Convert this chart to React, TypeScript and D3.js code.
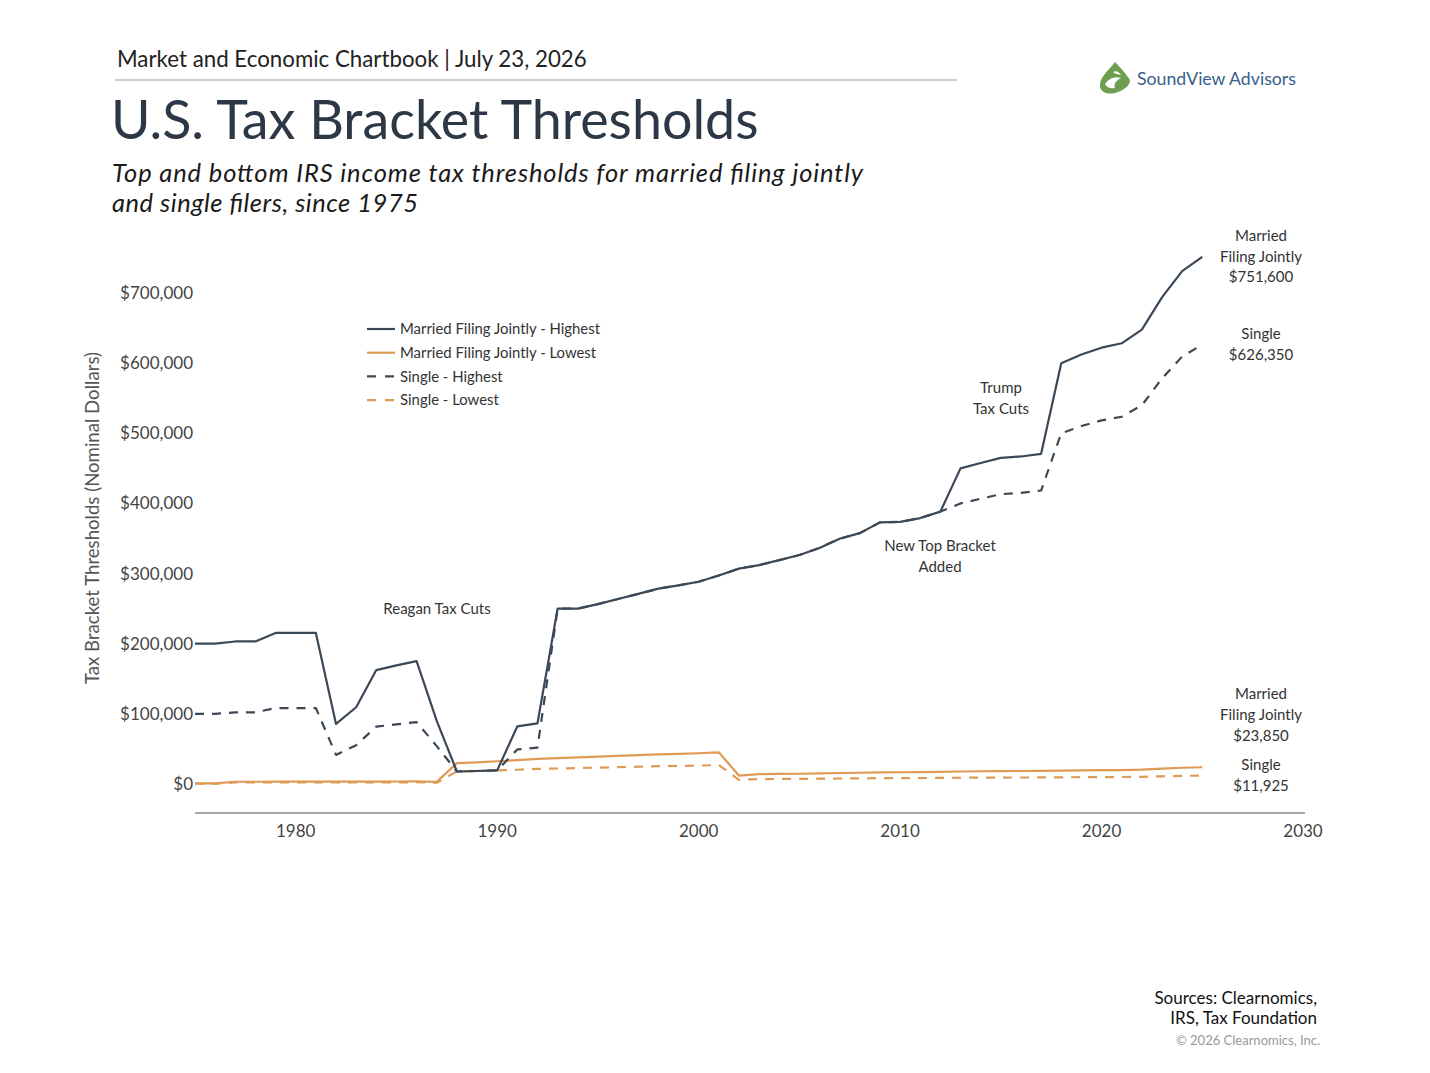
import React from "react";
import * as d3 from "d3";

const years: number[] = d3.range(1975, 2026);

const mfjHighest: number[] = [
  200000, 200000, 203200, 203200, 215400, 215400, 215400, 85600, 109400, 162400,
  169020, 175250, 90000, 17850, 18550, 19450, 82150, 86500, 250000, 250000,
  256500, 263750, 271050, 278450, 283150, 288350, 297350, 307050, 311950, 319100,
  326450, 336550, 349700, 357700, 372950, 373650, 379150, 388350, 450000, 457600,
  464850, 466950, 470700, 600000, 612350, 622050, 628300, 647850, 693750, 731200,
  751600,
];

const singleHighest: number[] = [
  100000, 100000, 102200, 102200, 108300, 108300, 108300, 41500, 55300, 81800,
  85130, 88270, 54000, 17850, 18550, 19450, 49300, 51900, 250000, 250000,
  256500, 263750, 271050, 278450, 283150, 288350, 297350, 307050, 311950, 319100,
  326450, 336550, 349700, 357700, 372950, 373650, 379150, 388350, 400000, 406750,
  413200, 415050, 418400, 500000, 510300, 518400, 523600, 539900, 578125, 609350,
  626350,
];

const mfjLowest: number[] = [
  1000, 1000, 3200, 3200, 3400, 3400, 3400, 3400, 3400, 3400,
  3540, 3670, 3000, 29750, 30950, 32450, 34000, 35800, 36900, 38000,
  39000, 40100, 41200, 42350, 43050, 43850, 45200, 12000, 14000, 14300,
  14600, 15100, 15650, 16050, 16700, 16750, 17000, 17400, 17850, 18150,
  18450, 18550, 18650, 19050, 19400, 19750, 19900, 20550, 22000, 23200,
  23850,
];

const singleLowest: number[] = [
  500, 500, 2200, 2200, 2300, 2300, 2300, 2300, 2300, 2300,
  2390, 2480, 1800, 17850, 18550, 19450, 20350, 21450, 22100, 22750,
  23350, 24000, 24650, 25350, 25750, 26250, 27050, 6000, 7000, 7150,
  7300, 7550, 7825, 8025, 8350, 8375, 8500, 8700, 8925, 9075,
  9225, 9275, 9325, 9525, 9700, 9875, 9950, 10275, 11000, 11600,
  11925,
];

const xTicks: number[] = [1980, 1990, 2000, 2010, 2020, 2030];
const yTicks: number[] = [0, 100000, 200000, 300000, 400000, 500000, 600000, 700000];

const seriesNames: string[] = [
  "Married Filing Jointly - Highest",
  "Married Filing Jointly - Lowest",
  "Single - Highest",
  "Single - Lowest",
];

const DARK = "#3b4856";
const ORANGE = "#e09a55";
const FONT = "Lato, 'Noto Sans', sans-serif";

export default function App() {
  const x = d3.scaleLinear().domain([1975, 2030]).range([195, 1303]);
  const y = d3.scaleLinear().domain([0, 700000]).range([784, 293]);
  const line = (vals: number[]) =>
    d3
      .line<number>()
      .x((_, i) => x(years[i]))
      .y((d) => y(d))(vals) as string;

  const series = [
    { name: seriesNames[1], vals: mfjLowest, color: ORANGE, dash: "" },
    { name: seriesNames[3], vals: singleLowest, color: ORANGE, dash: "9,8" },
    { name: seriesNames[2], vals: singleHighest, color: DARK, dash: "9,8" },
    { name: seriesNames[0], vals: mfjHighest, color: DARK, dash: "" },
  ];
  const legend = [
    { name: seriesNames[0], color: DARK, dash: "" },
    { name: seriesNames[1], color: ORANGE, dash: "" },
    { name: seriesNames[2], color: DARK, dash: "9,8" },
    { name: seriesNames[3], color: ORANGE, dash: "9,8" },
  ];
  const fmt = (v: number) => "$" + d3.format(",")(v);

  return (
    <svg width={1430} height={1073} style={{ display: "block", position: "absolute", left: 0, top: 0, background: "#fff" }} fontFamily={FONT}>
      {/* Header */}
      <text x={117} y={67} fontSize={22.3} fill="#222">
        Market and Economic Chartbook | July 23, 2026
      </text>
      <line x1={115} x2={957} y1={80} y2={80} stroke="#9aa0a6" strokeWidth={1.2} />
      <text x={111} y={139} fontSize={53.8} fill="#2c3845">
        U.S. Tax Bracket Thresholds
      </text>
      <text x={112} y={182} fontSize={25.5} fontStyle="italic" fill="#1a1a1a" textLength={751} lengthAdjust="spacing">
        Top and bottom IRS income tax thresholds for married filing jointly
      </text>
      <text x={112} y={212} fontSize={25.5} fontStyle="italic" fill="#1a1a1a" textLength={306} lengthAdjust="spacing">
        and single filers, since 1975
      </text>

      {/* Logo */}
      <g transform="translate(1099,62)">
        <path d="M16,0 C10,8 2,14 1,22 C0,30 8,33 16,31 C24,29 31,24 31,18 C27,12 22,6 16,0 Z" fill="#6f9e50" />
        <path d="M6,22 C10,16 16,14 22,16 C18,18 14,22 16,26 C12,27 8,26 6,22 Z" fill="#fff" />
        <path d="M14,10 C17,8 20,10 22,13 C19,12 16,12 14,10 Z" fill="#fff" />
      </g>
      <text x={1137} y={85} fontSize={17.7} fill="#3a5e8c">
        SoundView Advisors
      </text>

      {/* Y axis */}
      <text
        transform={`translate(99,518) rotate(-90)`}
        textAnchor="middle"
        fontSize={18.6}
        fill="#555"
      >
        Tax Bracket Thresholds (Nominal Dollars)
      </text>
      {yTicks.map((t) => (
        <text key={t} x={193} y={y(t)} dy="0.35em" textAnchor="end" fontSize={17} fill="#444">
          {fmt(t)}
        </text>
      ))}

      {/* X axis */}
      <line x1={195} x2={1305} y1={813} y2={813} stroke="#8a8a8a" strokeWidth={1.3} />
      {xTicks.map((t) => (
        <text key={t} x={x(t)} y={831} dy="0.35em" textAnchor="middle" fontSize={17} fill="#444">
          {t}
        </text>
      ))}

      {/* Lines */}
      {series.map((s) => (
        <path
          key={s.name}
          d={line(s.vals)}
          fill="none"
          stroke={s.color}
          strokeWidth={2.2}
          strokeDasharray={s.dash || undefined}
          strokeLinejoin="round"
        />
      ))}

      {/* Legend */}
      {legend.map((l, i) => (
        <g key={l.name} transform={`translate(367,${329 + i * 23.7})`}>
          <line x1={0} x2={28} y1={0} y2={0} stroke={l.color} strokeWidth={2.2} strokeDasharray={l.dash ? "9,9" : undefined} />
          <text x={33} y={0} dy="0.35em" fontSize={14.9} fill="#333">
            {l.name}
          </text>
        </g>
      ))}

      {/* Annotations */}
      <g fontSize={15} fill="#333" textAnchor="middle">
        <text x={437} y={609} dy="0.35em">Reagan Tax Cuts</text>
        <text x={940} y={546} dy="0.35em">New Top Bracket</text>
        <text x={940} y={567} dy="0.35em">Added</text>
        <text x={1001} y={388} dy="0.35em">Trump</text>
        <text x={1001} y={409} dy="0.35em">Tax Cuts</text>
        <text x={1261} y={236} dy="0.35em">Married</text>
        <text x={1261} y={257} dy="0.35em">Filing Jointly</text>
        <text x={1261} y={277} dy="0.35em">{fmt(mfjHighest[mfjHighest.length - 1])}</text>
        <text x={1261} y={334} dy="0.35em">Single</text>
        <text x={1261} y={355} dy="0.35em">{fmt(singleHighest[singleHighest.length - 1])}</text>
        <text x={1261} y={694} dy="0.35em">Married</text>
        <text x={1261} y={715} dy="0.35em">Filing Jointly</text>
        <text x={1261} y={736} dy="0.35em">{fmt(mfjLowest[mfjLowest.length - 1])}</text>
        <text x={1261} y={765} dy="0.35em">Single</text>
        <text x={1261} y={786} dy="0.35em">{fmt(singleLowest[singleLowest.length - 1])}</text>
      </g>

      {/* Sources */}
      <g textAnchor="end">
        <text x={1317} y={998} dy="0.35em" fontSize={17} fill="#111">Sources: Clearnomics,</text>
        <text x={1317} y={1018} dy="0.35em" fontSize={17} fill="#111">IRS, Tax Foundation</text>
        <text x={1320} y={1040} dy="0.35em" fontSize={13} fill="#999">© 2026 Clearnomics, Inc.</text>
      </g>
    </svg>
  );
}
